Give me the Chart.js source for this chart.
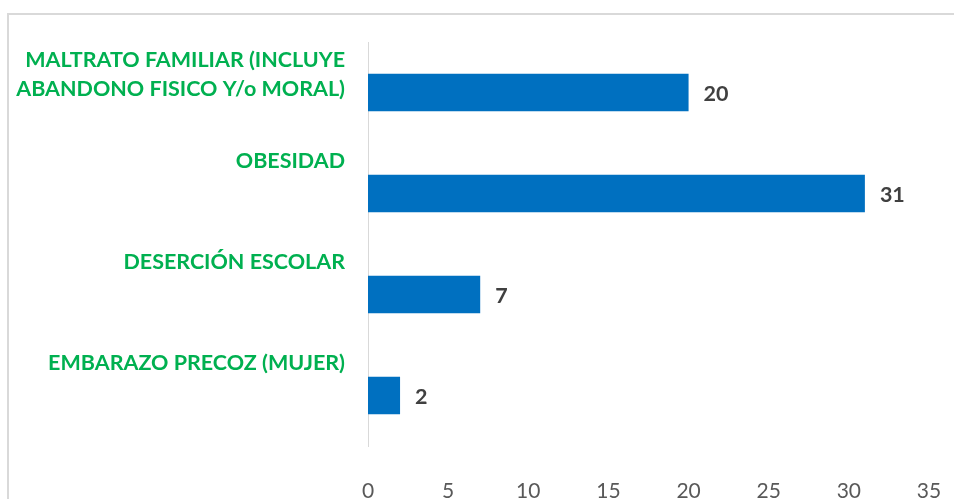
<!DOCTYPE html>
<html>
<head>
<meta charset="utf-8">
<script src="https://cdn.jsdelivr.net/npm/chart.js@4/dist/chart.umd.min.js"></script>
<style>
    html, body { margin: 0; padding: 0; background: #fff; overflow: hidden; }
    #wrap { position: relative; width: 954px; height: 499px; }
    #frame {
        position: absolute; left: 7px; top: 13px; width: 1000px; height: 560px;
        border: 2px solid #d9d9d9; box-sizing: border-box;
    }
    #chart { position: absolute; left: 0; top: 0; }
</style>
</head>
<body>
<div id="wrap">
    <div id="frame"></div>
    <canvas id="chart" width="954" height="499"></canvas>
</div>
<script>
const categories = [
    ['MALTRATO FAMILIAR (INCLUYE', 'ABANDONO FISICO Y/o MORAL)'],
    ['OBESIDAD'],
    ['DESERCIÓN ESCOLAR'],
    ['EMBARAZO PRECOZ (MUJER)']
];
const values = [20, 31, 7, 2];
const xTicks = [0, 5, 10, 15, 20, 25, 30, 35];

const FONT = 'Lato, "Open Sans", sans-serif';

// category names sit above each bar, right aligned
const categoryLabels = {
    id: 'categoryLabels',
    afterDraw(chart) {
        const ctx = chart.ctx;
        const y = chart.scales.y;
        ctx.save();
        ctx.font = 'bold 21.5px ' + FONT;
        ctx.fillStyle = '#00b050';
        ctx.textAlign = 'right';
        ctx.textBaseline = 'middle';
        categories.forEach((lines, i) => {
            const top = y.getPixelForTick(i) - 41;
            lines.forEach((line, j) => {
                ctx.fillText(line, 345, top + 9 + j * 29);
            });
        });
        ctx.restore();
    }
};

// value labels to the right of the bars
const valueLabels = {
    id: 'valueLabels',
    afterDatasetsDraw(chart) {
        const ctx = chart.ctx;
        const meta = chart.getDatasetMeta(0);
        ctx.save();
        ctx.font = 'bold 21.5px ' + FONT;
        ctx.fillStyle = '#404040';
        ctx.textAlign = 'left';
        ctx.textBaseline = 'middle';
        meta.data.forEach((bar, i) => {
            ctx.fillText(String(values[i]), bar.x + 15, bar.y + 2);
        });
        ctx.restore();
    }
};

new Chart(document.getElementById('chart'), {
    type: 'bar',
    data: {
        labels: categories.map(c => c.join(' ')),
        datasets: [{
            data: values,
            backgroundColor: '#0070c0',
            borderWidth: 0,
            categoryPercentage: 1,
            barPercentage: 0.37
        }]
    },
    options: {
        indexAxis: 'y',
        responsive: false,
        animation: false,
        layout: {padding: {top: 42, right: 25, left: 0, bottom: 0}},
        plugins: {
            legend: {display: false},
            tooltip: {enabled: false}
        },
        scales: {
            x: {
                min: 0,
                max: 35,
                afterBuildTicks(scale) {
                    scale.ticks = xTicks.map(v => ({value: v}));
                },
                afterFit(scale) {
                    scale.height = 53;
                    // tick padding is only meant to push labels down
                    scale.paddingLeft = 0;
                    scale.paddingRight = 0;
                },
                grid: {display: false, drawTicks: false},
                border: {display: false},
                ticks: {
                    color: '#595959',
                    padding: 33,
                    font: {family: FONT, size: 21}
                }
            },
            y: {
                afterFit(scale) {
                    scale.width = 368;
                },
                grid: {display: false, drawTicks: false},
                border: {display: true, color: '#d9d9d9', width: 1},
                ticks: {display: false}
            }
        }
    },
    plugins: [categoryLabels, valueLabels]
});
</script>
</body>
</html>
